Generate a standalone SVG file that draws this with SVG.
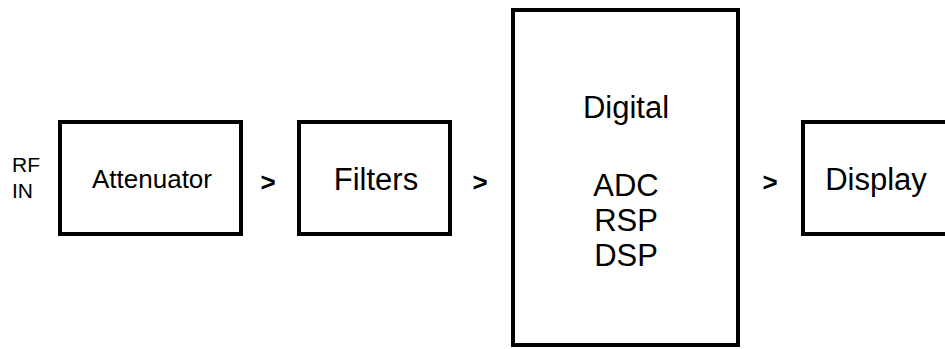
<svg xmlns="http://www.w3.org/2000/svg" width="945" height="349" viewBox="0 0 945 349">
<style>
.box{fill:#fff;stroke:#000;stroke-width:4}
.t{font-family:"Liberation Sans",Arial,sans-serif;fill:#000;text-anchor:middle}
.arr{font-family:"Liberation Sans",Arial,sans-serif;font-weight:bold;font-size:26px;fill:#000;text-anchor:middle}
</style>
<rect width="945" height="349" fill="#fff"/>
<g id="rf-in">
<text class="t" x="12" y="172" font-size="21" style="text-anchor:start">RF</text>
<text class="t" x="12" y="198" font-size="21" style="text-anchor:start">IN</text>
</g>
<g id="attenuator">
<rect class="box" x="60" y="122" width="181" height="112"/>
<text class="t" x="152" y="188" font-size="26">Attenuator</text>
</g>
<g id="filters">
<rect class="box" x="299" y="122" width="151" height="112"/>
<text class="t" x="376" y="190" font-size="31">Filters</text>
</g>
<g id="digital">
<rect class="box" x="513" y="10" width="225" height="335"/>
<text class="t" x="626" y="118" font-size="31">Digital</text>
<text class="t" x="626" y="196" font-size="31">ADC</text>
<text class="t" x="626" y="231" font-size="31">RSP</text>
<text class="t" x="626" y="266" font-size="31">DSP</text>
</g>
<g id="display">
<rect class="box" x="803" y="122" width="150" height="112"/>
<text class="t" x="876" y="190" font-size="31">Display</text>
</g>
<g id="connectors">
<text class="arr" x="268" y="191">&gt;</text>
<text class="arr" x="480" y="191">&gt;</text>
<text class="arr" x="770" y="191">&gt;</text>
</g>
</svg>
